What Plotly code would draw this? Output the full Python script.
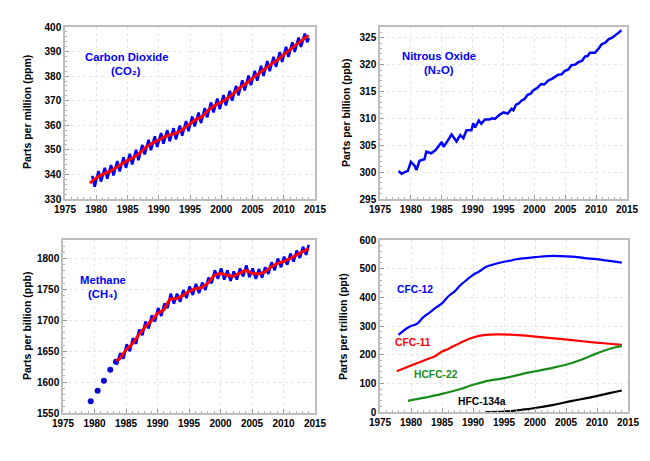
import plotly.graph_objects as go

# ---------------- DATA ----------------
# CO2 (ppm): smoothed trend (red) and seasonal peaks / troughs (blue)
co2_years = list(range(1979, 2015))
co2_trend = [336.5, 338.6, 340.0, 341.0, 342.5, 344.1, 345.6, 347.0, 348.8, 351.2,
             352.8, 354.0, 355.4, 356.2, 357.0, 358.7, 360.6, 362.4, 363.7, 366.3,
             368.1, 369.4, 371.0, 373.0, 375.3, 377.1, 379.2, 381.1, 383.0, 384.9,
             386.6, 388.8, 390.8, 392.8, 394.8, 396.5]
co2_peak_years = list(range(1979, 2014))
co2_peak = [339.5, 341.4, 342.7, 343.8, 345.4, 347.0, 348.4, 350.0, 352.0, 354.1,
            355.5, 356.8, 358.0, 358.8, 359.9, 361.7, 363.6, 365.2, 367.0, 369.3,
            370.9, 372.3, 374.0, 376.1, 378.3, 380.2, 382.2, 384.2, 386.1, 387.9,
            389.8, 391.9, 393.8, 395.7, 397.3]
co2_trough = [335.0, 337.1, 338.2, 339.6, 341.2, 342.7, 344.1, 345.8, 348.1, 349.9,
              351.2, 352.5, 353.5, 354.3, 355.8, 357.6, 359.5, 360.9, 363.2, 365.2,
              366.6, 368.1, 370.0, 372.2, 374.2, 376.3, 378.2, 380.1, 382.0, 383.8,
              385.8, 387.8, 389.9, 391.9, 393.8]
co2_peak_frac, co2_trough_frac = 0.37, 0.75

# N2O (ppb)
n2o_x = [1978.0, 1978.5, 1979.0, 1979.5, 1980.0, 1980.6, 1980.9, 1981.4, 1982.2, 1982.5,
         1983.3, 1984.0, 1985.0, 1985.3, 1986.0, 1986.6, 1987.4, 1988.0, 1988.5, 1989.0,
         1989.8, 1990.1, 1990.4, 1991.0, 1991.4, 1992.0, 1992.7, 1993.2, 1993.6, 1994.4,
         1995.0, 1995.7, 1996.3, 1996.6, 1997.0, 1997.5, 1997.9, 1998.4, 1998.9, 1999.4,
         1999.8, 2000.5, 2001.1, 2001.6, 2002.2, 2002.9, 2003.8, 2004.4, 2004.9, 2005.5,
         2006.0, 2006.6, 2007.2, 2007.7, 2008.2, 2008.6, 2009.0, 2009.8, 2010.4, 2010.9,
         2011.5, 2012.0, 2012.6, 2013.1, 2013.6, 2014.1]
n2o_y = [300.2, 299.7, 300.0, 300.2, 301.9, 301.2, 300.4, 302.1, 302.4, 303.8,
         303.5, 304.1, 305.6, 304.7, 305.9, 307.0, 305.7, 306.9, 306.3, 307.8,
         307.8, 309.1, 308.3, 309.6, 309.0, 309.8, 309.8, 310.0, 309.9, 310.7,
         311.1, 310.9, 311.8, 311.5, 312.5, 312.8, 313.3, 313.6, 314.4, 314.6,
         315.2, 315.7, 316.4, 316.3, 317.0, 317.4, 318.1, 318.2, 318.8, 319.1,
         319.9, 320.0, 320.5, 320.7, 321.5, 321.6, 322.2, 322.2, 323.0, 323.8,
         324.1, 324.7, 325.0, 325.4, 325.9, 326.4]

# CH4 (ppb): early annual points (dots), trend (red), seasonal peaks / troughs (blue)
ch4_dot_x = [1979.4, 1980.5, 1981.5, 1982.5, 1983.4]
ch4_dot_y = [1569, 1586, 1602, 1620, 1633]
ch4_trend_x = [1983.5] + list(range(1984, 2015))
ch4_trend = [1634, 1638, 1652, 1662, 1676, 1689, 1699, 1711, 1717, 1735, 1735,
             1740, 1747, 1751, 1753, 1760, 1773, 1776, 1773, 1771, 1776, 1781,
             1776, 1775, 1778, 1786, 1792, 1795, 1800, 1805, 1811, 1816]
ch4_cycle_years = list(range(1984, 2014))
ch4_peak = [1647, 1661, 1671, 1685, 1698, 1708, 1720, 1727, 1743, 1743,
            1749, 1755, 1759, 1761, 1769, 1781, 1784, 1781, 1779, 1784,
            1789, 1784, 1783, 1786, 1794, 1800, 1803, 1808, 1813, 1819]
ch4_trough = [1638, 1650, 1662, 1676, 1687, 1698, 1707, 1720, 1727, 1730,
              1736, 1741, 1744, 1749, 1760, 1767, 1766, 1764, 1766, 1771,
              1770, 1767, 1769, 1775, 1781, 1786, 1790, 1795, 1801, 1806]
ch4_start = (1983.5, 1628)
ch4_end = (2014.0, 1822)
ch4_peak_frac, ch4_trough_frac = 0.1, 0.6

# Halocarbons (ppt)
cfc12_x = [1978, 1979, 1980, 1980.6, 1981, 1982, 1983, 1984, 1985, 1986, 1987, 1988,
           1989, 1990, 1991, 1992, 1993, 1994, 1995, 1996, 1997, 1998, 2000, 2002,
           2004, 2006, 2008, 2010, 2012, 2014]
cfc12_y = [269, 287, 300, 304, 308, 331, 347, 364, 379, 403, 420, 443,
           461, 478, 490, 505, 513, 519, 524, 528, 533, 536, 540, 544,
           544, 542, 537, 533, 527, 521]
cfc11_x = [1977.7, 1980, 1982, 1984, 1985, 1986, 1988, 1990, 1992, 1994, 1996, 1998,
           2000, 2004, 2008, 2012, 2014]
cfc11_y = [142, 162, 179, 196, 211, 220, 242, 260, 269, 271, 270, 267,
           263, 255, 246, 238, 234]
hcfc22_x = [1979.5, 1982, 1985, 1988, 1990, 1992, 1995, 1998, 2000, 2003, 2005, 2007,
            2009, 2011, 2013, 2014]
hcfc22_y = [39, 49, 63, 80, 95, 107, 118, 133, 142, 155, 165, 179,
            196, 213, 226, 230]
hfc134a_x = [1992, 1995, 1998, 2000, 2003, 2006, 2009, 2012, 2014]
hfc134a_y = [0, 1, 8, 14, 25, 39, 51, 66, 75]

# ---------------- FIGURE ----------------
FONT = "Liberation Sans, Arial, sans-serif"
BLUE, RED, GREEN = "#0000ff", "#ff0000", "#1a8c1a"

def zigzag(years, peaks, troughs, pf, tf, start=None, end=None):
    xs, ys = [], []
    if start:
        xs.append(start[0]); ys.append(start[1])
    for yr, p, t in zip(years, peaks, troughs):
        xs += [yr + pf, yr + tf]
        ys += [p, t]
    if end:
        xs.append(end[0]); ys.append(end[1])
    return xs, ys

fig = go.Figure()

# Panel 1: CO2
zx, zy = zigzag(co2_peak_years, co2_peak, co2_trough, co2_peak_frac, co2_trough_frac,
                end=(2014.0, 395.5))
fig.add_trace(go.Scatter(x=zx, y=zy, mode="lines", line=dict(color=BLUE, width=2.6),
                         xaxis="x", yaxis="y"))
fig.add_trace(go.Scatter(x=co2_years, y=co2_trend, mode="lines",
                         line=dict(color=RED, width=3, shape="spline"),
                         xaxis="x", yaxis="y"))

# Panel 2: N2O
fig.add_trace(go.Scatter(x=n2o_x, y=n2o_y, mode="lines",
                         line=dict(color=BLUE, width=2.5), xaxis="x2", yaxis="y2"))

# Panel 3: CH4
fig.add_trace(go.Scatter(x=ch4_dot_x, y=ch4_dot_y, mode="markers",
                         marker=dict(color="#0a0ad0", size=6), xaxis="x3", yaxis="y3"))
zx, zy = zigzag(ch4_cycle_years, ch4_peak, ch4_trough, ch4_peak_frac, ch4_trough_frac,
                start=ch4_start, end=ch4_end)
fig.add_trace(go.Scatter(x=zx, y=zy, mode="lines", line=dict(color=BLUE, width=2.6),
                         xaxis="x3", yaxis="y3"))
fig.add_trace(go.Scatter(x=ch4_trend_x, y=ch4_trend, mode="lines",
                         line=dict(color=RED, width=3), xaxis="x3", yaxis="y3"))

# Panel 4: halocarbons
for xs, ys, c in [(cfc12_x, cfc12_y, BLUE), (cfc11_x, cfc11_y, RED),
                  (hcfc22_x, hcfc22_y, GREEN), (hfc134a_x, hfc134a_y, "black")]:
    fig.add_trace(go.Scatter(x=xs, y=ys, mode="lines",
                             line=dict(color=c, width=2.2, shape="spline"),
                             xaxis="x4", yaxis="y4"))

tickfont = dict(family=FONT, size=10, color="black", weight="bold")
titlefont = dict(family=FONT, size=10.5, color="black", weight="bold")

def xax(domain, anchor):
    return dict(domain=domain, anchor=anchor, range=[1975, 2015], dtick=5, tick0=1975,
                showline=True, linecolor="#bdbdbd", linewidth=1.5, mirror=True,
                ticks="inside", ticklen=4, tickcolor="#9a9a9a",
                minor=dict(dtick=1, ticks="inside", ticklen=2, tickcolor="#b0b0b0"),
                showgrid=True, gridcolor="#e6e6e6", griddash="dot", gridwidth=1,
                zeroline=False, tickfont=tickfont, automargin=False)

def yax(domain, anchor, rng, dtick, minor):
    return dict(domain=domain, anchor=anchor, range=rng, dtick=dtick, tick0=rng[0],
                showline=True, linecolor="#bdbdbd", linewidth=1.5, mirror=True,
                ticks="inside", ticklen=4, tickcolor="#9a9a9a",
                minor=dict(dtick=minor, ticks="inside", ticklen=2, tickcolor="#b0b0b0"),
                showgrid=True, gridcolor="#e6e6e6", griddash="dot", gridwidth=1,
                zeroline=False, tickfont=tickfont, automargin=False)

# page body has an 8px margin, so the figure is placed 8px in from the window edge
OFF = 8
W, H = 650 - OFF, 461 - OFF
px = lambda a, b: [(a - OFF) / W, (b - OFF) / W]
py = lambda top, bot: [1 - (bot - OFF) / H, 1 - (top - OFF) / H]
pxp = lambda a: (a - OFF) / W
pyp = lambda b: 1 - (b - OFF) / H

fig.update_layout(
    width=W, height=H, showlegend=False,
    paper_bgcolor="white", plot_bgcolor="white",
    margin=dict(l=0, r=0, t=0, b=0),
    xaxis=xax(px(65, 315), "y"),
    yaxis=yax(py(27, 199), "x", [330, 400], 10, 2),
    xaxis2=xax(px(380, 627), "y2"),
    yaxis2=yax(py(27, 199), "x2", [295, 327], 5, 1),
    xaxis3=xax(px(63, 315), "y3"),
    yaxis3=yax(py(240, 413), "x3", [1550, 1830], 50, 10),
    xaxis4=xax(px(380, 628), "y4"),
    yaxis4=yax(py(240, 412), "x4", [0, 600], 100, 20),
)

# y-axis titles (vertical), positioned beside each panel
y_titles = [
    ("Parts per million (ppm)", 27, 112),
    ("Parts per billion (ppb)", 346, 112),
    ("Parts per billion (ppb)", 27, 326),
    ("Parts per trillion (ppt)", 343, 327),
]

ann_font = dict(family=FONT, size=11.3, weight="bold")
lab_font = dict(family=FONT, size=10.3, weight="bold")
annotations = [
    ("x", "y", 1984.8, 387.8, "Carbon Dioxide", BLUE, ann_font),
    ("x", "y", 1984.8, 381.9, "(CO₂)", BLUE, ann_font),
    ("x2", "y2", 1984.5, 321.6, "Nitrous Oxide", BLUE, ann_font),
    ("x2", "y2", 1984.5, 319.0, "(N₂O)", BLUE, ann_font),
    ("x3", "y3", 1981.3, 1766, "Methane", BLUE, ann_font),
    ("x3", "y3", 1981.3, 1743, "(CH₄)", BLUE, ann_font),
    ("x4", "y4", 1980.6, 429, "CFC-12", BLUE, lab_font),
    ("x4", "y4", 1980.4, 242, "CFC-11", RED, lab_font),
    ("x4", "y4", 1984.1, 130, "HCFC-22", GREEN, lab_font),
    ("x4", "y4", 1991.4, 37, "HFC-134a", "black", lab_font),
]
anns = [dict(xref=xr, yref=yr, x=x, y=y, text=t, showarrow=False,
             font=dict(color=c, **f))
        for xr, yr, x, y, t, c, f in annotations]
anns += [dict(xref="paper", yref="paper", x=pxp(xc), y=pyp(yc), text=t,
              textangle=-90, showarrow=False, xanchor="center", yanchor="middle",
              font=titlefont)
         for t, xc, yc in y_titles]
fig.update_layout(annotations=anns)

fig.write_html("out.html")
